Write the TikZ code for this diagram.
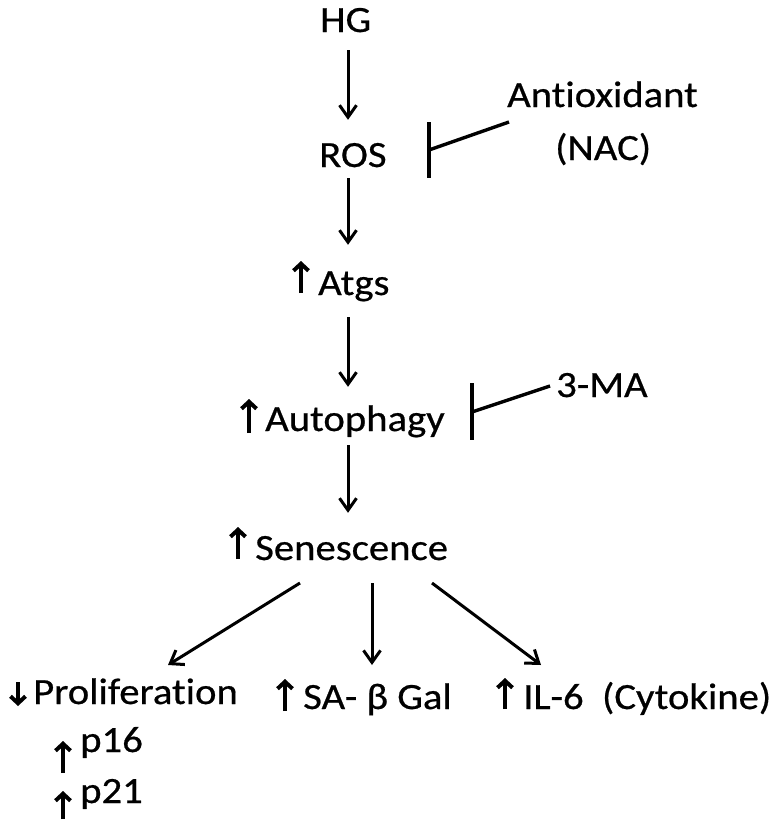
\documentclass[tikz,border=0pt]{standalone}
\usepackage{fontspec}
\setmainfont{Carlito}[FakeStretch=1.1,FakeBold=0.6,Ligatures={NoCommon}]
\usetikzlibrary{arrows.meta}
\begin{document}
\begin{tikzpicture}[x=1pt,y=-1pt,
  lbl/.style={anchor=base west,inner sep=0pt,text height=28pt,text depth=10pt,font=\fontsize{37}{44}\selectfont},
  flow/.style={line width=3pt,-{Straight Barb[length=12pt,width=17pt,line width=3pt]}},
  inhib/.style={line width=3.4pt},
  marker/.style={line width=4.4pt,-{Straight Barb[length=7pt,width=15pt,line width=4pt]}}]
\useasboundingbox (0,0) rectangle (777,831);
\coordinate (axis) at (348,0);
% nodes
\node[lbl] (hg) at (320,32) {HG};
\node[lbl] (ros) at (319,167) {ROS};
\node[lbl] (anti) at (507,107) {Antioxidant};
\node[lbl] (nac) at (555,160) {(NAC)};
\node[lbl] (atgs) at (318,295) {Atgs};
\node[lbl] (auto) at (265,431) {Autophagy};
\node[lbl] (ma) at (556,397) {3-MA};
\node[lbl] (sen) at (255,560) {Senescence};
\node[lbl] (prol) at (33,704) {Proliferation};
\node[lbl] (sa) at (303,709) {SA- β Gal};
\node[lbl] (il) at (523,709) {IL-6\ \ (Cytokine)};
\node[lbl] (p16) at (80,752) {p16};
\node[lbl] (p21) at (80,803) {p21};
% main flow
\draw[flow,shorten <=8pt,shorten >=19pt] (hg.south -| axis) -- (ros.north -| axis);
\draw[flow,shorten <=1pt,shorten >=22pt] (ros.south -| axis) -- (atgs.north -| axis);
\draw[flow,shorten <=12pt,shorten >=16pt] (atgs.south -| axis) -- (auto.north -| axis);
\draw[flow,shorten <=4pt,shorten >=19pt] (auto.south -| axis) -- (sen.north -| axis);
% branches
\coordinate (b1s) at (300,583); \coordinate (b1e) at (168,665);
\coordinate (b2s) at (372,583); \coordinate (b2e) at (372,665);
\coordinate (b3s) at (432,583); \coordinate (b3e) at (541,665);
\draw[flow] (b1s) -- (b1e);
\draw[flow] (b2s) -- (b2e);
\draw[flow] (b3s) -- (b3e);
% inhibitions
\coordinate (rosbar) at (429,150);
\coordinate (antiend) at (509,122);
\draw[inhib] (rosbar) ++(0,-28) -- ++(0,56);
\draw[inhib] (rosbar) -- (antiend);
\coordinate (autobar) at (472,412);
\coordinate (maend) at (550,386);
\draw[inhib] (autobar) ++(0,-29) -- ++(0,57);
\draw[inhib] (autobar) -- (maend);
% up/down markers
\draw[marker] (301,293) -- (301,261);
\draw[marker] (249,433) -- (249,399);
\draw[marker] (238,559) -- (238,527);
\draw[marker] (18,682) -- (18,706);
\draw[marker] (285,711) -- (285,679);
\draw[marker] (505,709) -- (505,678);
\draw[marker] (63,773) -- (63,741);
\draw[marker] (63,819) -- (63,791);
\end{tikzpicture}
\end{document}
